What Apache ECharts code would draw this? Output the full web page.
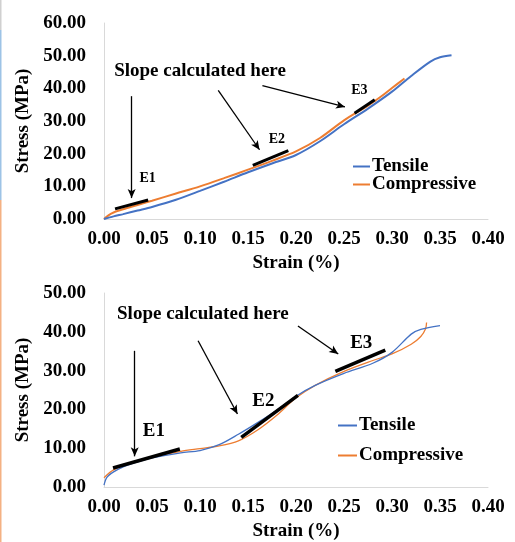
<!DOCTYPE html>
<html>
<head>
<meta charset="utf-8">
<script src="https://cdn.jsdelivr.net/npm/echarts@6/dist/echarts.min.js"></script>
<style>
html,body{margin:0;padding:0;background:#fff;}
#c{width:515px;height:542px;}
</style>
</head>
<body>
<div id="c"></div>
<script>
// ---- Data (top chart) ----
var topTensileStrain = [0, 0.01, 0.02, 0.035, 0.05, 0.075, 0.10, 0.125, 0.15, 0.175, 0.20, 0.225, 0.25, 0.275, 0.30, 0.32, 0.34, 0.35, 0.362];
var topTensileStress = [0, 0.8, 1.5, 2.6, 3.7, 5.9, 8.6, 11.4, 14.3, 17.0, 19.6, 23.8, 29.0, 33.8, 39.0, 43.8, 48.2, 49.5, 50.1];
var topCompStrain = [0, 0.005, 0.01, 0.02, 0.035, 0.05, 0.075, 0.10, 0.125, 0.15, 0.175, 0.20, 0.225, 0.25, 0.275, 0.29, 0.30, 0.313];
var topCompStress = [0, 1.2, 2.0, 3.0, 4.3, 5.6, 7.8, 10.0, 12.5, 15.1, 17.8, 20.7, 24.8, 30.2, 34.7, 37.8, 40.1, 43.0];

// ---- Data (bottom chart) ----
var botTensileStrain = [0, 0.003, 0.01, 0.02, 0.03, 0.05, 0.08, 0.10, 0.12, 0.14, 0.16, 0.18, 0.20, 0.22, 0.25, 0.28, 0.30, 0.32, 0.33, 0.35];
var botTensileStress = [0.5, 2.5, 3.9, 5.2, 6.1, 7.5, 8.8, 9.4, 10.9, 13.6, 16.6, 19.8, 23.4, 26.2, 29.3, 31.9, 34.7, 39.4, 40.6, 41.6];
var botCompStrain = [0, 0.01, 0.03, 0.05, 0.08, 0.10, 0.12, 0.14, 0.16, 0.18, 0.20, 0.22, 0.25, 0.28, 0.30, 0.32, 0.33, 0.335, 0.336];
var botCompStress = [2.4, 4.4, 6.4, 7.7, 9.2, 9.9, 10.6, 11.9, 14.7, 18.5, 23.0, 26.2, 29.8, 32.6, 34.3, 36.8, 38.8, 40.8, 42.4];

// ---- Annotations (data coordinates) ----
var topSlopes = [[[0.0115, 3.1], [0.046, 5.8]], [[0.155, 16.4], [0.192, 20.9]], [[0.261, 32.4], [0.282, 36.5]]];
var topArrows = [[[0.0288, 37.6], [0.0288, 6.4]], [[0.119, 39.4], [0.162, 21.2]], [[0.165, 40.8], [0.251, 34.3]]];
var topLabels = [['Slope calculated here', 0.1, 45.2], ['E1', 0.0455, 12.5], ['E2', 0.18, 24.3], ['E3', 0.266, 39.4]];
var botSlopes = [[[0.0094, 4.9], [0.079, 9.8]], [[0.143, 12.8], [0.202, 23.6]], [[0.241, 29.8], [0.293, 35.3]]];
var botArrows = [[[0.032, 35.1], [0.032, 7.9]], [[0.098, 37.7], [0.139, 18.8]], [[0.202, 41.5], [0.244, 34.3]]];
var botLabels = [['Slope calculated here', 0.103, 44.5], ['E1', 0.052, 14.5], ['E2', 0.166, 22.1], ['E3', 0.268, 37.2]];

var xTicks = ['0.00','0.05','0.10','0.15','0.20','0.25','0.30','0.35','0.40'];

function zip(a, b) { return a.map(function (v, i) { return [v, b[i]]; }); }

var FONT = 'Liberation Serif';
var BLUE = '#4472C4', ORANGE = '#ED7D31';

function markLines(slopes, arrows, slopeW) {
  var d = [];
  slopes.forEach(function (s) {
    d.push([{coord: s[0], symbol: 'none', lineStyle: {color: '#000', width: slopeW, type: 'solid'}},
            {coord: s[1], symbol: 'none'}]);
  });
  arrows.forEach(function (a) {
    d.push([{coord: a[0], symbol: 'none', lineStyle: {color: '#000', width: 1.3, type: 'solid'}},
            {coord: a[1], symbol: 'arrow', symbolSize: [6, 9]}]);
  });
  return {silent: true, animation: false, label: {show: false}, emphasis: {disabled: true}, data: d};
}
function markPoints(labels, eSize) {
  return {
    silent: true, animation: false,
    data: labels.map(function (l) {
      return {name: l[0], coord: [l[1], l[2]], symbol: 'circle', symbolSize: 1,
        itemStyle: {color: 'rgba(0,0,0,0)'},
        label: {show: true, position: 'inside', formatter: l[0], color: '#000',
          fontFamily: FONT, fontWeight: 'bold', fontSize: l[0].length > 3 ? 19 : eSize}};
    })
  };
}

function xAxisCfg(gi) {
  return {
    type: 'value', gridIndex: gi, min: 0, max: 0.4, interval: 0.05,
    name: 'Strain (%)', nameLocation: 'middle', nameGap: 35,
    nameTextStyle: {fontFamily: FONT, fontWeight: 'bold', fontSize: 19, color: '#000'},
    axisLine: {show: true, lineStyle: {color: '#d9d9d9', width: 1}},
    axisTick: {show: false}, splitLine: {show: false},
    axisLabel: {margin: 11, fontFamily: FONT, fontWeight: 'bold', fontSize: 19, color: '#000',
      formatter: function (v) { return v.toFixed(2); }}
  };
}
function yAxisCfg(gi, max) {
  return {
    type: 'value', gridIndex: gi, min: 0, max: max, interval: 10,
    name: 'Stress (MPa)', nameLocation: 'middle', nameGap: 68,
    nameTextStyle: {fontFamily: FONT, fontWeight: 'bold', fontSize: 19, color: '#000'},
    axisLine: {show: true, lineStyle: {color: '#d9d9d9', width: 1}},
    axisTick: {show: false}, splitLine: {show: false},
    axisLabel: {margin: 18, fontFamily: FONT, fontWeight: 'bold', fontSize: 19, color: '#000',
      formatter: function (v) { return v.toFixed(2); }}
  };
}

function legendCfg(left, top, w, gap) {
  return {orient: 'vertical', left: left, top: top, padding: 0, icon: 'rect',
    itemWidth: w, itemHeight: 2, itemGap: gap,
    data: ['Tensile', 'Compressive'],
    textStyle: {fontFamily: FONT, fontWeight: 'bold', fontSize: 19, color: '#000', lineHeight: 14, padding: [0, 0, 0, -3]}};
}

var chart = echarts.init(document.getElementById('c'), null, {renderer: 'canvas'});
chart.setOption({
  animation: false,
  backgroundColor: '#fff',
  grid: [
    {left: 104, top: 23, width: 384, height: 196},
    {left: 104, top: 293, width: 384, height: 196}
  ],
  xAxis: [xAxisCfg(0), xAxisCfg(1)],
  yAxis: [yAxisCfg(0, 60), yAxisCfg(1, 50)],
  legend: [legendCfg(353, 157, 17, -1), legendCfg(338, 416, 19, 11)],
  graphic: [
    {type: 'rect', shape: {x: 0, y: 0, width: 1.5, height: 30}, style: {fill: '#d0d0d0'}, silent: true},
    {type: 'rect', shape: {x: 0, y: 30, width: 1.5, height: 170}, style: {fill: '#9dc3e6'}, silent: true},
    {type: 'rect', shape: {x: 0, y: 200, width: 1.5, height: 342}, style: {fill: '#f4b183'}, silent: true}
  ],
  series: [
    {name: 'Tensile', type: 'line', xAxisIndex: 0, yAxisIndex: 0, data: zip(topTensileStrain, topTensileStress),
      smooth: 0.3, symbol: 'none', lineStyle: {color: BLUE, width: 2}, itemStyle: {color: BLUE},
      markLine: markLines(topSlopes, topArrows, 3), markPoint: markPoints(topLabels, 14), z: 2},
    {name: 'Compressive', type: 'line', xAxisIndex: 0, yAxisIndex: 0, data: zip(topCompStrain, topCompStress),
      smooth: 0.3, symbol: 'none', lineStyle: {color: ORANGE, width: 2}, itemStyle: {color: ORANGE}, z: 1},
    {name: 'Tensile', type: 'line', xAxisIndex: 1, yAxisIndex: 1, data: zip(botTensileStrain, botTensileStress),
      smooth: 0.3, symbol: 'none', lineStyle: {color: BLUE, width: 1.3}, itemStyle: {color: BLUE},
      markLine: markLines(botSlopes, botArrows, 3.5), markPoint: markPoints(botLabels, 19), z: 2},
    {name: 'Compressive', type: 'line', xAxisIndex: 1, yAxisIndex: 1, data: zip(botCompStrain, botCompStress),
      smooth: 0.3, symbol: 'none', lineStyle: {color: ORANGE, width: 1.3}, itemStyle: {color: ORANGE}, z: 1}
  ]
});
</script>
</body>
</html>
